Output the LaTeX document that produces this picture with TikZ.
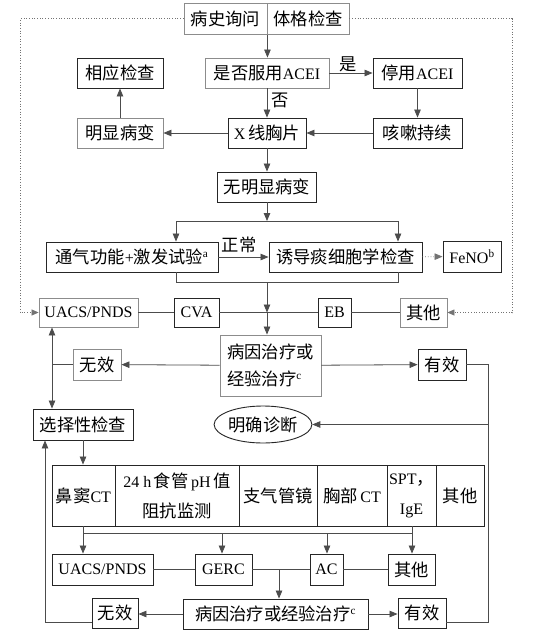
\documentclass[tikz,border=0pt]{standalone}
\usepackage{fontspec}
\setmainfont{Liberation Serif}
\newfontfamily\cjk[Scale=1.08]{Noto Sans CJK SC}
\usetikzlibrary{arrows.meta,shapes.geometric}
\newcommand\zh[1]{{\cjk #1}}
\begin{document}
\begin{tikzpicture}[x=1pt,y=-1pt,
 every node/.style={font=\fontsize{16}{19}\selectfont, inner sep=0pt},
 bk/.style={draw=black!85, line width=0.9pt, minimum height=30, align=center},
 bg/.style={draw=black!45, line width=0.9pt, minimum height=30, align=center},
 ln/.style={draw=black!70, line width=0.8pt},
 arr/.style={ln, -{Triangle[length=8pt,width=6.5pt]}},
 dar/.style={ln, {Triangle[length=8pt,width=6.5pt]}-{Triangle[length=8pt,width=6.5pt]}},
 dots/.style={draw=black!55, line width=0.7pt, dotted},
 lbl/.style={font=\fontsize{16}{19}\selectfont},
]
\fill[white] (0,0) rectangle (534,634);
\useasboundingbox (0,0) rectangle (534,634);

% top
\node[bg, minimum width=83, minimum height=31] (h1) at (225.5,18.75) {\zh{病史询问}};
\node[bg, minimum width=82, minimum height=31] (h2) at (308,18.75) {\zh{体格检查}};
\node[bg, minimum width=124] (acei) at (267,73) {\zh{是否服用}ACEI};
\node[bk, minimum width=86] (xiang) at (120,73) {\zh{相应检查}};
\node[bk, minimum width=89] (stop) at (417.5,73) {\zh{停用}ACEI};
\node[bk, minimum width=78] (xray) at (267,133) {X\,\zh{线胸片}};
\node[bg, minimum width=86] (ming) at (120,133) {\zh{明显病变}};
\node[bk, minimum width=89] (cough) at (417.5,133) {\zh{咳嗽持续}};
\node[bk, minimum width=99] (wu) at (267,187) {\zh{无明显病变}};
\node[bk, minimum width=172] (vent) at (132,257) {\zh{通气功能}+\zh{激发试验}\textsuperscript{a}};
\node[bk, minimum width=153] (sput) at (345.5,257) {\zh{诱导痰细胞学检查}};
\node[bk, minimum width=58, minimum height=31] (feno) at (472,256.5) {FeNO\textsuperscript{b}};

\draw[arr] (h1.south east) -- (h1.south east |- acei.north);
\draw[arr] (acei) -- (stop);
\node[lbl] (shi) at (348,64) {\zh{是}};
\draw[arr] (stop) -- (cough);
\draw[arr] (acei) -- (xray);
\node[lbl] (fou) at (280,100) {\zh{否}};
\draw[arr] (cough) -- (xray);
\draw[arr] (xray) -- (ming);
\draw[arr] (ming) -- (xiang);
\draw[arr] (xray) -- (wu);

\coordinate (bl) at (176,221);
\coordinate (br) at (398,221);
\draw[arr] (wu.south) -- (wu.south |- bl);
\draw[ln] (bl) -- (br);
\draw[arr] (bl) -- (bl |- vent.north);
\draw[arr] (br) -- (br |- sput.north);
\draw[arr] (vent) -- (sput);
\node[lbl] (zc) at (239,245) {\zh{正常}};
\draw[dots, -{Triangle[length=8pt,width=6.5pt]}] (sput) -- (feno);

\coordinate (ml) at (176,282);
\coordinate (mr) at (398,282);
\coordinate (mm) at (267,282);
\draw[ln] (vent.south -| ml) -- (ml) -- (mr) -- (sput.south -| mr);

% row 1
\node[bg, minimum width=99, minimum height=29] (u1) at (88.5,312.5) {UACS/PNDS};
\node[bk, minimum width=45, minimum height=29] (cva) at (196.5,312.5) {CVA};
\node[bk, minimum width=33, minimum height=29] (eb) at (334.5,312.5) {EB};
\node[bg, minimum width=47, minimum height=29] (o1) at (423.5,312.5) {\zh{其他}};
\draw[ln] (u1) -- (cva) -- (eb) -- (o1);
\coordinate (rowc) at (267,312.5);
\draw[arr] (mm) -- (rowc);

\draw[dots, -{Triangle[length=7pt,width=6pt]}] (h1.west) -- (20,18.75) -- (20,312.5) -- (u1.west);
\draw[dots, -{Triangle[length=7pt,width=6pt]}] (h2.east) -- (512,18.75) -- (512,312.5) -- (o1.east);

\node[bg, minimum width=101, minimum height=61, align=left, font=\fontsize{16}{27}\selectfont] (t1) at (270.5,365.5) {\zh{病因治疗或}\\\zh{经验治疗}\textsuperscript{c}};
\draw[arr] (rowc) -- (rowc |- t1.north);
\node[bg, minimum width=48, minimum height=31] (nov1) at (97,364.5) {\zh{无效}};
\node[bk, minimum width=48, minimum height=31] (yes1) at (442,364.5) {\zh{有效}};
\draw[arr] (t1) -- (nov1);
\draw[arr] (t1) -- (yes1);
\coordinate (lx) at (52,364.5);
\draw[ln] (nov1.west) -- (lx);

\node[bk, minimum width=100, minimum height=31] (sel) at (83,424.5) {\zh{选择性检查}};
\node[draw=black!85, line width=0.9pt, ellipse, minimum width=90, minimum height=37] (diag) at (263,424.5) {\zh{明确诊断}};
\draw[dar] (u1.south -| lx) -- (sel.north -| lx);

% table
\node[bk, minimum width=63, minimum height=61] (c1) at (83.5,495.5) {\zh{鼻窦}CT};
\node[bk, minimum width=124, minimum height=61, font=\fontsize{16}{30}\selectfont] (c2) at (177,495.5) {24 h\,\zh{食管}\,pH\,\zh{值}\\\zh{阻抗监测}};
\node[bk, minimum width=78, minimum height=61] (c3) at (278,495.5) {\zh{支气管镜}};
\node[bk, minimum width=70, minimum height=61] (c4) at (352,495.5) {\zh{胸部}\,CT};
\node[bk, minimum width=49, minimum height=61, font=\fontsize{16}{30}\selectfont] (c5) at (411.5,495.5) {SPT\zh{，}\\IgE};
\node[bk, minimum width=48, minimum height=61] (c6) at (460,495.5) {\zh{其他}};
\draw[arr] (sel.south) -- (sel.south |- c1.north);

% row 2
\node[bk, minimum width=101, minimum height=31] (u2) at (102.5,569.5) {UACS/PNDS};
\node[bk, minimum width=57, minimum height=31] (gerc) at (223.5,569.5) {GERC};
\node[bk, minimum width=33, minimum height=31] (ac) at (326.5,569.5) {AC};
\node[bk, minimum width=47, minimum height=31] (o2) at (411.5,569.5) {\zh{其他}};
\draw[ln] (u2) -- (gerc) -- (ac) -- (o2);

\coordinate (q1) at (83,533);
\coordinate (q2) at (222,533);
\coordinate (q3) at (327,533);
\coordinate (q4) at (412,533);
\draw[ln] (q1) -- (q4);
\draw[arr] (c1.south -| q1) -- (q1 |- u2.north);
\draw[arr] (q2) -- (q2 |- gerc.north);
\draw[arr] (q3) -- (q3 |- ac.north);
\draw[arr] (c5.south -| q4) -- (q4 |- o2.north);

\node[bk, minimum width=185, minimum height=30] (t2) at (275.5,614) {\zh{病因治疗或经验治疗}\textsuperscript{c}};
\node[bk, minimum width=46, minimum height=30] (nov2) at (115,613) {\zh{无效}};
\node[bk, minimum width=48, minimum height=30] (yes2) at (422,613) {\zh{有效}};
\coordinate (r2) at (279,569.5);
\draw[arr] (r2) -- (r2 |- t2.north);
\draw[arr] (t2.west) -- (t2.west -| nov2.east);
\draw[arr] (t2.east) -- (t2.east -| yes2.west);

\coordinate (lb) at (45,622);
\draw[arr] (nov2.west |- lb) -- (lb) -- (lb |- sel.south);
\coordinate (rx) at (488,364.5);
\coordinate (rb) at (488,622);
\coordinate (rd) at (488,424.5);
\draw[ln] (yes1.east) -- (rx) -- (rb) -- (yes2.east |- rb);
\draw[arr] (rd) -- (diag.east);
\end{tikzpicture}
\end{document}
